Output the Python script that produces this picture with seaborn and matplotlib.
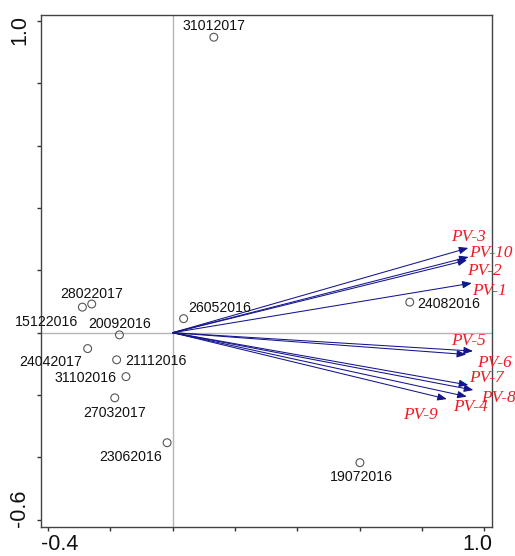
import matplotlib
matplotlib.use("Agg")
import matplotlib.pyplot as plt
import seaborn as sns
import pandas as pd

# Sampling dates (site scores)
sites = ["31012017", "28022017", "15122016", "20092016", "26052016", "24042017",
         "21112016", "31102016", "27032017", "23062016", "24082016", "19072016"]
site_x = [0.132, -0.260, -0.290, -0.171, 0.035, -0.273,
          -0.180, -0.150, -0.186, -0.018, 0.761, 0.601]
site_y = [0.948, 0.092, 0.082, -0.007, 0.045, -0.051,
          -0.087, -0.141, -0.209, -0.353, 0.098, -0.417]

# Variables (arrow tips)
variables = ["PV-1", "PV-2", "PV-3", "PV-4", "PV-5",
             "PV-6", "PV-7", "PV-8", "PV-9", "PV-10"]
var_x = [0.960, 0.945, 0.949, 0.944, 0.942, 0.964, 0.949, 0.965, 0.880, 0.950]
var_y = [0.159, 0.233, 0.272, -0.205, -0.070, -0.059, -0.168, -0.184, -0.213, 0.243]

# Axis extent and the two labelled tick values
x_lim = (-0.4228, 1.025)
y_lim = (-0.6234, 1.0202)
x_ticks = [-0.4, -0.2, 0.0, 0.2, 0.4, 0.6, 0.8, 1.0]
y_ticks = [-0.6, -0.4, -0.2, 0.0, 0.2, 0.4, 0.6, 0.8, 1.0]

# Label placement (offset points from the mark)
site_offsets = {
    "31012017": (0, 8.9), "28022017": (0, 8.6), "15122016": (-25.8, -9.9),
    "20092016": (0, 8.9), "26052016": (26.1, 8.6), "24042017": (-26.4, -8.9),
    "21112016": (28.3, 0), "31102016": (-28.8, 0), "27032017": (0, -9.6),
    "23062016": (-26.1, -9.4), "24082016": (27.8, 0), "19072016": (0.7, -9.4),
}
var_offsets = {
    "PV-1": (13, -4.3), "PV-2": (12.2, -6.5), "PV-3": (0, 9.1),
    "PV-4": (3.0, -6.0), "PV-5": (1.4, 11.5), "PV-6": (15.1, -7.2),
    "PV-7": (13, 6.7), "PV-8": (17.8, -4.6), "PV-9": (-18.7, -10.1),
    "PV-10": (16.2, 4.1),
}

sns.set_style("white")
plt.rcParams["font.family"] = ["Liberation Sans", "DejaVu Sans"]

fig = plt.figure(figsize=(5.15, 5.56), dpi=100)
ax = fig.add_axes([41 / 515, 1 - 527 / 556, 451 / 515, 512.3 / 556])

ax.axvline(0, color="#b4b4b4", lw=1.0, zorder=1)
ax.axhline(0, color="#b4b4b4", lw=1.0, zorder=1)

df_sites = pd.DataFrame({"site": sites, "x": site_x, "y": site_y})
sns.scatterplot(data=df_sites, x="x", y="y", ax=ax, s=32, marker="o",
                facecolor="none", edgecolor="#555555", linewidth=0.8, zorder=3)

for name, x, y in zip(sites, site_x, site_y):
    ax.annotate(name, (x, y), xytext=site_offsets[name], textcoords="offset points",
                ha="center", va="center_baseline", fontsize=10.2, color="#111111",
                zorder=4)

arrow_color = "#14148c"
for name, x, y in zip(variables, var_x, var_y):
    ax.annotate("", xy=(x, y), xytext=(0, 0),
                arrowprops=dict(arrowstyle="-|>,head_length=0.55,head_width=0.22",
                                color=arrow_color, lw=0.75, shrinkA=0, shrinkB=0,
                                mutation_scale=10),
                zorder=2)
    ax.annotate(name, (x, y), xytext=var_offsets[name], textcoords="offset points",
                ha="center", va="center_baseline", fontsize=12.5, color="#ee1c25",
                fontstyle="italic", family=["Liberation Serif", "DejaVu Serif"],
                zorder=5, annotation_clip=False)

ax.set_xlim(*x_lim)
ax.set_ylim(*y_lim)
ax.set_xticks(x_ticks)
ax.set_yticks(y_ticks)
ax.set_xticklabels([])
ax.set_yticklabels([])
ax.tick_params(axis="both", direction="out", length=3, width=1, color="#333333",
               bottom=True, left=True)
ax.set_xlabel("")
ax.set_ylabel("")
for side in ["left", "bottom", "right", "top"]:
    ax.spines[side].set_color("#444444")
    ax.spines[side].set_linewidth(1.0)

# End values of each axis, aligned to the frame edges
lab_kw = dict(fontsize=15.5, color="#111111", transform=ax.transAxes)
ax.text(0.0, -23 / 512.3, f"{x_ticks[0]:.1f}", ha="left", va="baseline", **lab_kw)
ax.text(1.0, -23 / 512.3, f"{x_ticks[-1]:.1f}", ha="right", va="baseline", **lab_kw)
ax.text(-21.5 / 451, 1.0, f"{y_ticks[-1]:.1f}", ha="center", va="top", rotation=90, **lab_kw)
ax.text(-21.5 / 451, 0.0, f"{y_ticks[0]:.1f}", ha="center", va="bottom", rotation=90, **lab_kw)

fig.savefig("out.png", dpi=100)
